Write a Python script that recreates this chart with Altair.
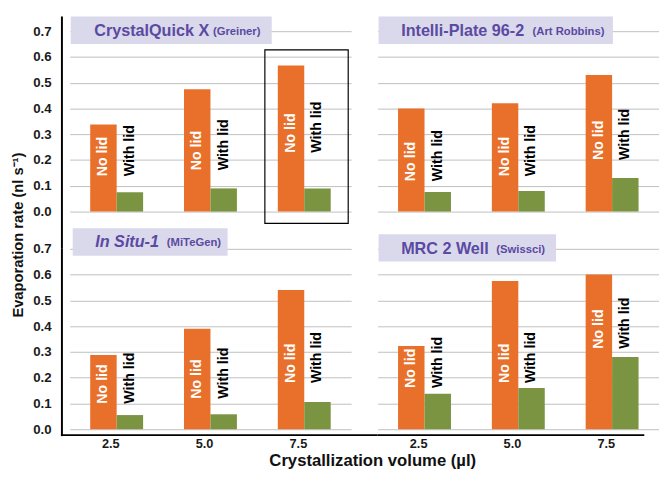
import altair as alt
import pandas as pd

volumes = ["2.5", "5.0", "7.5"]
lids = ["No lid", "With lid"]

plates = ["CrystalQuick X", "Intelli-Plate 96-2", "In Situ-1", "MRC 2 Well"]
makers = ["(Greiner)", "(Art Robbins)", "(MiTeGen)", "(Swissci)"]

no_lid = [
    [0.338, 0.475, 0.567],
    [0.400, 0.420, 0.530],
    [0.288, 0.390, 0.540],
    [0.323, 0.575, 0.600],
]
with_lid = [
    [0.075, 0.090, 0.090],
    [0.076, 0.080, 0.130],
    [0.055, 0.058, 0.106],
    [0.138, 0.160, 0.280],
]
# value (nl/s) at which the rotated bar labels start
label_base = [
    [0.137, 0.160, 0.228],
    [0.118, 0.137, 0.200],
    [0.099, 0.118, 0.179],
    [0.160, 0.179, 0.312],
]

y_ticks = [0.0, 0.1, 0.2, 0.3, 0.4, 0.5, 0.6, 0.7]

ORANGE = "#E8702A"
GREEN = "#7A9441"
PURPLE = "#5A4AA2"
BOXFILL = "#DAD8EB"
GRID = "#BEBEBE"
W, H = 287, 184
WR = 272  # right-hand panels are cut by the page edge

one = alt.Data(values=[{"d": 0}])


def panel(i, left, bottom, box, t1x, t2x, ty, italic=False):
    rows = []
    for j, v in enumerate(volumes):
        rows.append({"volume": v, "lid": "No lid", "value": no_lid[i][j], "lab": label_base[i][j]})
        rows.append({"volume": v, "lid": "With lid", "value": with_lid[i][j], "lab": label_base[i][j]})
    df = pd.DataFrame(rows)

    xscale = alt.Scale(paddingInner=0.436, paddingOuter=0.218, range=[0, W])
    xaxis = alt.Axis(title=None, labels=bottom, domain=False, ticks=False, tickSize=0,
                     labelAngle=0, labelFont="Liberation Sans", labelFontWeight="bold",
                     labelFontSize=13, labelColor="#1a1a1a", labelPadding=9,
                     labelOffset=-6, grid=False)
    yscale = alt.Scale(domain=[0, 0.7], nice=False, zero=True)
    yaxis = alt.Axis(title=None, values=y_ticks, format=".1f", labels=left,
                     labelOverlap=False, domain=False, ticks=False, tickSize=0,
                     grid=True, gridColor=GRID, gridWidth=1, labelFont="Liberation Sans",
                     labelFontWeight="bold", labelFontSize=13.5, labelColor="#1a1a1a",
                     labelPadding=19)
    x = alt.X("volume:N", sort=volumes, scale=xscale, axis=xaxis)
    xo = alt.XOffset("lid:N", sort=lids, scale=alt.Scale(paddingInner=0, paddingOuter=0))

    base = alt.Chart(df)
    bars = base.mark_bar().encode(
        x=x, xOffset=xo,
        y=alt.Y("value:Q", scale=yscale, axis=yaxis),
        color=alt.Color("lid:N", scale=alt.Scale(domain=lids, range=[ORANGE, GREEN]), legend=None),
    )
    labels = base.mark_text(
        angle=270, align="left", baseline="middle", font="Liberation Sans",
        fontWeight="bold", fontSize=14.5,
    ).encode(
        x=x, xOffset=xo,
        y=alt.Y("lab:Q", scale=yscale, axis=yaxis),
        text="lid:N",
        color=alt.condition("datum.lid == 'No lid'", alt.value("white"), alt.value("black")),
    )

    b0, b1, by0, by1 = box
    rect = alt.Chart(one).mark_rect(color=BOXFILL).encode(
        x=alt.value(b0), x2=alt.value(b1), y=alt.value(by0), y2=alt.value(by1)
    )
    title1 = alt.Chart(one).mark_text(
        text=plates[i], align="left", baseline="middle", font="Liberation Sans",
        fontWeight="bold", fontSize=16.5, color=PURPLE,
        fontStyle="italic" if italic else "normal",
    ).encode(x=alt.value(t1x), y=alt.value(ty))
    title2 = alt.Chart(one).mark_text(
        text=makers[i], align="left", baseline="middle", font="Liberation Sans",
        fontWeight="bold", fontSize=11.5, color=PURPLE,
    ).encode(x=alt.value(t2x), y=alt.value(ty + 1))

    return [bars, labels, rect, title1, title2]


def rule(x1, x2, y1, y2):
    return alt.Chart(one).mark_rule(color="black", strokeWidth=2).encode(
        x=alt.value(x1), x2=alt.value(x2), y=alt.value(y1), y2=alt.value(y2)
    )


# top-left
tl = panel(0, True, False, (1, 206, -15, 13), 25, 146, 0)
tl.append(alt.Chart(one).mark_rect(fillOpacity=0, stroke="black", strokeWidth=1.2).encode(
    x=alt.value(199), x2=alt.value(284), y=alt.value(19), y2=alt.value(196)))
tl.append(rule(-8, -8, -15, 222))
tl.append(alt.Chart(one).mark_text(
    text="Evaporation rate (nl s\u207b\u00b9)", angle=270, align="center", baseline="middle",
    font="Liberation Sans", fontWeight="bold", fontSize=15, color="#111",
).encode(x=alt.value(-53), y=alt.value(208)))
TL = alt.layer(*tl).properties(width=W, height=H)

# top-right
tr = panel(1, False, False, (1, 240, -15, 13), 24, 158, 0)
TR = alt.layer(*tr).properties(width=WR, height=H)

# bottom-left
bl = panel(2, True, True, (3, 161, -21, 7), 26, 99, -7, italic=True)
bl.append(rule(-8, -8, 0, 191))
bl.append(rule(-9, W + 27, 190, 190))
bl.append(alt.Chart(one).mark_text(
    text="Crystallization volume (\u00b5l)", align="center", baseline="middle",
    font="Liberation Sans", fontWeight="bold", fontSize=17, color="#111",
).encode(x=alt.value(309), y=alt.value(217)))
BL = alt.layer(*bl).properties(width=W, height=H)

# bottom-right
br = panel(3, False, True, (1, 182, -15, 13), 24, 121, 0)
br.append(rule(0, WR, 190, 190))
BR = alt.layer(*br).properties(width=WR, height=H)

chart = alt.concat(
    TL, TR, BL, BR, columns=2, spacing={"row": 38, "column": 27}, bounds="flush"
).properties(
    padding={"left": 3, "top": 3, "right": 0, "bottom": 0},
    background="white",
).configure_view(stroke="transparent", strokeWidth=0, strokeOpacity=0)

chart.save("out.html", embed_options={"renderer": "svg", "actions": False})
